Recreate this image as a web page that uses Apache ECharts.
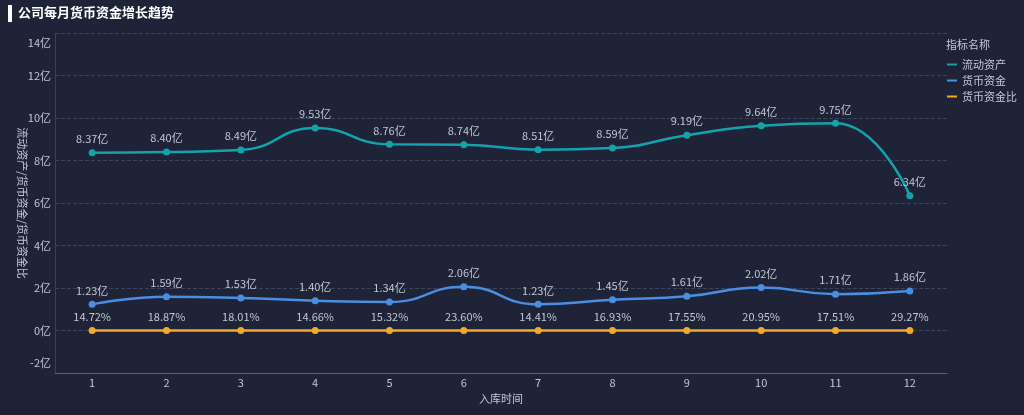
<!DOCTYPE html>
<html><head><meta charset="utf-8">
<style>html,body{margin:0;padding:0;background:#1e2337;}#c{width:1024px;height:415px;}</style>
<script src="https://cdn.jsdelivr.net/npm/echarts@6/dist/echarts.min.js"></script>
</head><body><div id="c"></div>
<script>
var categories = ['1','2','3','4','5','6','7','8','9','10','11','12'];
// values in 亿 (100 million)
var currentAssets = [8.37, 8.40, 8.49, 9.53, 8.76, 8.74, 8.51, 8.59, 9.19, 9.64, 9.75, 6.34];
var monetaryFunds = [1.23, 1.59, 1.53, 1.40, 1.34, 2.06, 1.23, 1.45, 1.61, 2.02, 1.71, 1.86];
// ratio as a plain fraction (plotted on the same raw-unit axis, hence ~0 in 亿)
var fundRatio = [0.1472, 0.1887, 0.1801, 0.1466, 0.1532, 0.2360, 0.1441, 0.1693, 0.1755, 0.2095, 0.1751, 0.2927];
var seriesNames = ['流动资产', '货币资金', '货币资金比'];
var colors = ['#14a3ab', '#4a8ee2', '#f5a82a'];
var YI = 1e8;
var cjk = "'Noto Sans CJK SC','Noto Sans',sans-serif";
var chart = echarts.init(document.getElementById('c'), null, {renderer:'canvas'});
function mk(name, data, color, fmt){
  return {
    name: name, type: 'line', smooth: true, data: data,
    symbol: 'circle', symbolSize: 7,
    lineStyle: {width: 2.5, color: color},
    itemStyle: {color: color},
    label: {show: true, position: 'top', distance: 5, color: '#c3c8d4', fontSize: 11, fontFamily: cjk, formatter: fmt}
  };
}
chart.setOption({
  backgroundColor: '#1e2337',
  animation: false,
  color: colors,
  graphic: [
    {type: 'rect', left: 8, top: 5, shape: {width: 4, height: 17}, style: {fill: '#ffffff'}},
    {type: 'text', left: 18, top: 6, style: {text: '公司每月货币资金增长趋势', fill: '#ffffff', font: "bold 13px 'Noto Sans CJK SC'"}},
    {type: 'text', left: 946, top: 39, style: {text: '指标名称', fill: '#c3c8d4', font: "11px 'Noto Sans CJK SC'"}}
  ],
  legend: {
    orient: 'vertical', left: 942, top: 54, itemGap: 5, itemWidth: 10, itemHeight: 10,
    icon: 'path://M0,4 L10,4 L10,6 L0,6 Z',
    textStyle: {color: '#c3c8d4', fontSize: 11, fontFamily: cjk},
    data: seriesNames
  },
  grid: {left: 55, right: 77, top: 33, bottom: 42, containLabel: false, outerBoundsMode: 'none'},
  xAxis: {
    type: 'category', data: categories, boundaryGap: true,
    name: '入库时间', nameLocation: 'middle', nameGap: 17,
    nameTextStyle: {color: '#c3c8d4', fontSize: 11, fontFamily: cjk},
    axisLine: {onZero: false, lineStyle: {color: '#5a6076'}},
    axisTick: {show: false},
    axisLabel: {color: '#c3c8d4', fontSize: 11, fontFamily: cjk, margin: 4}
  },
  yAxis: {
    type: 'value', min: -2 * YI, max: 14 * YI, interval: 2 * YI,
    name: '流动资产/货币资金/货币资金比', nameLocation: 'middle', nameGap: 27, nameRotate: -90,
    nameMoveOverlap: false,
    nameTextStyle: {color: '#c3c8d4', fontSize: 11, fontFamily: cjk},
    axisLine: {show: true, lineStyle: {color: '#3a4058'}},
    axisTick: {show: false},
    splitLine: {lineStyle: {color: '#3d4358', type: 'dashed'}},
    axisLabel: {color: '#c3c8d4', fontSize: 11, fontFamily: cjk, margin: 4, lineHeight: 20,
      verticalAlignMinLabel: 'bottom', verticalAlignMaxLabel: 'top',
      formatter: function(v){ return Math.round(v / YI) + '亿'; }}
  },
  series: [
    mk(seriesNames[0], currentAssets.map(function(v){return v * YI;}), colors[0], function(p){ return (p.value / YI).toFixed(2) + '亿'; }),
    mk(seriesNames[1], monetaryFunds.map(function(v){return v * YI;}), colors[1], function(p){ return (p.value / YI).toFixed(2) + '亿'; }),
    mk(seriesNames[2], fundRatio, colors[2], function(p){ return (p.value * 100).toFixed(2) + '%'; })
  ]
});
</script></body></html>
